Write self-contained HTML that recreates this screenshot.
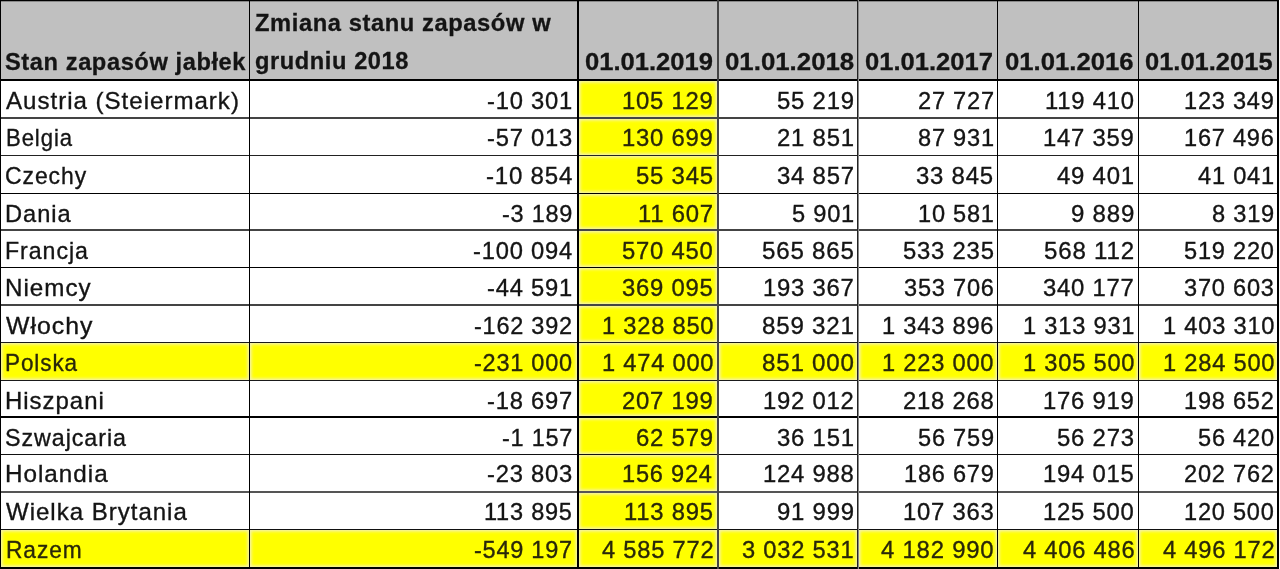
<!DOCTYPE html>
<html><head><meta charset="utf-8"><style>
html,body{margin:0;padding:0;background:#fff;}
body{width:1280px;height:569px;position:relative;overflow:hidden;font-family:"Liberation Sans",sans-serif;}
#pg{position:absolute;left:0;top:0;width:1280px;height:569px;background:#fff;filter:blur(0.35px);}
.a{position:absolute;}
.t{position:absolute;white-space:nowrap;font-size:24.5px;line-height:24.5px;color:#141414;-webkit-text-stroke:0.35px #141414;}
.b{font-weight:bold;font-size:24.5px;line-height:24.5px;-webkit-text-stroke:0.3px #141414;}
.ls{letter-spacing:0.6px;}
.ls2{letter-spacing:1.0px;}
.ls3{letter-spacing:0.8px;}
.y{color:#29270a;-webkit-text-stroke-color:#29270a;}
.h{position:absolute;background:#111;}
</style></head><body><div id="pg">

<div class="a" style="left:1px;top:1px;width:1276px;height:78px;background:#c0c0c0"></div>
<div class="a" style="left:579px;top:81px;width:138px;height:36px;background:#ffff00;box-shadow:inset 0 0 3px 1.5px #f5f2b0"></div>
<div class="a" style="left:579px;top:119px;width:138px;height:36px;background:#ffff00;box-shadow:inset 0 0 3px 1.5px #f5f2b0"></div>
<div class="a" style="left:579px;top:156px;width:138px;height:37px;background:#ffff00;box-shadow:inset 0 0 3px 1.5px #f5f2b0"></div>
<div class="a" style="left:579px;top:194px;width:138px;height:35px;background:#ffff00;box-shadow:inset 0 0 3px 1.5px #f5f2b0"></div>
<div class="a" style="left:579px;top:231px;width:138px;height:36px;background:#ffff00;box-shadow:inset 0 0 3px 1.5px #f5f2b0"></div>
<div class="a" style="left:579px;top:268px;width:138px;height:36px;background:#ffff00;box-shadow:inset 0 0 3px 1.5px #f5f2b0"></div>
<div class="a" style="left:579px;top:306px;width:138px;height:36px;background:#ffff00;box-shadow:inset 0 0 3px 1.5px #f5f2b0"></div>
<div class="a" style="left:1px;top:343px;width:248px;height:37px;background:#ffff00;box-shadow:inset 0 0 3px 1.5px #f5f2b0"></div>
<div class="a" style="left:250px;top:343px;width:327px;height:37px;background:#ffff00;box-shadow:inset 0 0 3px 1.5px #f5f2b0"></div>
<div class="a" style="left:579px;top:343px;width:138px;height:37px;background:#ffff00;box-shadow:inset 0 0 3px 1.5px #f5f2b0"></div>
<div class="a" style="left:719px;top:343px;width:138px;height:37px;background:#ffff00;box-shadow:inset 0 0 3px 1.5px #f5f2b0"></div>
<div class="a" style="left:859px;top:343px;width:138px;height:37px;background:#ffff00;box-shadow:inset 0 0 3px 1.5px #f5f2b0"></div>
<div class="a" style="left:998px;top:343px;width:140px;height:37px;background:#ffff00;box-shadow:inset 0 0 3px 1.5px #f5f2b0"></div>
<div class="a" style="left:1139px;top:343px;width:138px;height:37px;background:#ffff00;box-shadow:inset 0 0 3px 1.5px #f5f2b0"></div>
<div class="a" style="left:579px;top:381px;width:138px;height:35px;background:#ffff00;box-shadow:inset 0 0 3px 1.5px #f5f2b0"></div>
<div class="a" style="left:579px;top:418px;width:138px;height:36px;background:#ffff00;box-shadow:inset 0 0 3px 1.5px #f5f2b0"></div>
<div class="a" style="left:579px;top:455px;width:138px;height:36px;background:#ffff00;box-shadow:inset 0 0 3px 1.5px #f5f2b0"></div>
<div class="a" style="left:579px;top:493px;width:138px;height:36px;background:#ffff00;box-shadow:inset 0 0 3px 1.5px #f5f2b0"></div>
<div class="a" style="left:1px;top:530px;width:248px;height:37px;background:#ffff00;box-shadow:inset 0 0 3px 1.5px #f5f2b0"></div>
<div class="a" style="left:250px;top:530px;width:327px;height:37px;background:#ffff00;box-shadow:inset 0 0 3px 1.5px #f5f2b0"></div>
<div class="a" style="left:579px;top:530px;width:138px;height:37px;background:#ffff00;box-shadow:inset 0 0 3px 1.5px #f5f2b0"></div>
<div class="a" style="left:719px;top:530px;width:138px;height:37px;background:#ffff00;box-shadow:inset 0 0 3px 1.5px #f5f2b0"></div>
<div class="a" style="left:859px;top:530px;width:138px;height:37px;background:#ffff00;box-shadow:inset 0 0 3px 1.5px #f5f2b0"></div>
<div class="a" style="left:998px;top:530px;width:140px;height:37px;background:#ffff00;box-shadow:inset 0 0 3px 1.5px #f5f2b0"></div>
<div class="a" style="left:1139px;top:530px;width:138px;height:37px;background:#ffff00;box-shadow:inset 0 0 3px 1.5px #f5f2b0"></div>
<div class="a" style="left:0;top:0;width:1279px;height:1px;background:#000"></div>
<div class="a" style="left:0;top:1px;width:1279px;height:1px;background:#888"></div>
<div class="a" style="left:0;top:79px;width:1279px;height:2px;background:#000"></div>
<div class="a" style="left:0;top:117px;width:1279px;height:2px;background:#444"></div>
<div class="a" style="left:0;top:155px;width:1279px;height:1px;background:#222"></div>
<div class="a" style="left:0;top:193px;width:1279px;height:1px;background:#000"></div>
<div class="a" style="left:0;top:229px;width:1279px;height:2px;background:#444"></div>
<div class="a" style="left:0;top:267px;width:1279px;height:1px;background:#000"></div>
<div class="a" style="left:0;top:304px;width:1279px;height:2px;background:#444"></div>
<div class="a" style="left:0;top:342px;width:1279px;height:1px;background:#1a1a1a"></div>
<div class="a" style="left:0;top:380px;width:1279px;height:1px;background:#1a1a1a"></div>
<div class="a" style="left:0;top:416px;width:1279px;height:2px;background:#000"></div>
<div class="a" style="left:0;top:454px;width:1279px;height:1px;background:#111"></div>
<div class="a" style="left:0;top:491px;width:1279px;height:2px;background:#555"></div>
<div class="a" style="left:0;top:529px;width:1279px;height:1px;background:#111"></div>
<div class="a" style="left:0;top:567px;width:1279px;height:2px;background:#000"></div>
<div class="a" style="left:0px;top:0;width:1px;height:569px;background:#000"></div>
<div class="a" style="left:249px;top:0;width:1px;height:569px;background:#000"></div>
<div class="a" style="left:577px;top:0;width:2px;height:569px;background:#000"></div>
<div class="a" style="left:717px;top:0;width:2px;height:569px;background:#444"></div>
<div class="a" style="left:857px;top:0;width:1px;height:569px;background:#222"></div>
<div class="a" style="left:858px;top:0;width:1px;height:569px;background:#888"></div>
<div class="a" style="left:997px;top:0;width:1px;height:569px;background:#000"></div>
<div class="a" style="left:1138px;top:0;width:1px;height:569px;background:#000"></div>
<div class="a" style="left:1277px;top:0;width:2px;height:569px;background:#000"></div>
<div id="stan" class="t b ls" style="left:5.21px;top:50.00px;transform:scaleX(0.9655);transform-origin:0 0">Stan zapasów jabłek</div>
<div id="zmiana" class="t b ls" style="left:255.02px;top:11.00px;transform:scaleX(0.9682);transform-origin:0 0">Zmiana stanu zapasów w</div>
<div id="grudniu" class="t b ls" style="left:255.02px;top:49.00px;transform:scaleX(0.9646);transform-origin:0 0">grudniu 2018</div>
<div id="d0" class="t b" style="left:584.98px;top:50.00px;transform:scaleX(1.0438);transform-origin:0 0">01.01.2019</div>
<div id="d1" class="t b" style="left:724.97px;top:50.00px;transform:scaleX(1.0537);transform-origin:0 0">01.01.2018</div>
<div id="d2" class="t b" style="left:865.35px;top:50.00px;transform:scaleX(1.0430);transform-origin:0 0">01.01.2017</div>
<div id="d3" class="t b" style="left:1004.98px;top:50.00px;transform:scaleX(1.0488);transform-origin:0 0">01.01.2016</div>
<div id="d4" class="t b" style="left:1144.98px;top:50.00px;transform:scaleX(1.0402);transform-origin:0 0">01.01.2015</div>
<div id="L0" class="t ls2" style="left:6.19px;top:89.00px;transform:scaleX(0.9835);transform-origin:0 0">Austria (Steiermark)</div>
<div id="N0_0" class="t ls3" style="left:486.71px;top:89.00px;transform:scaleX(0.9701);transform-origin:0 0">-10 301</div>
<div id="N0_1" class="t ls3 y" style="left:622.28px;top:89.00px;transform:scaleX(0.9734);transform-origin:0 0">105 129</div>
<div id="N0_2" class="t ls3" style="left:776.69px;top:89.00px;transform:scaleX(0.9765);transform-origin:0 0">55 219</div>
<div id="N0_3" class="t ls3" style="left:917.53px;top:89.00px;transform:scaleX(0.9631);transform-origin:0 0">27 727</div>
<div id="N0_4" class="t ls3" style="left:1045.17px;top:89.00px;transform:scaleX(0.9721);transform-origin:0 0">119 410</div>
<div id="N0_5" class="t ls3" style="left:1184.34px;top:89.00px;transform:scaleX(0.9621);transform-origin:0 0">123 349</div>
<div id="L1" class="t ls2" style="left:5.56px;top:126.00px;transform:scaleX(0.9028);transform-origin:0 0">Belgia</div>
<div id="N1_0" class="t ls3" style="left:486.71px;top:126.00px;transform:scaleX(0.9701);transform-origin:0 0">-57 013</div>
<div id="N1_1" class="t ls3 y" style="left:622.28px;top:126.00px;transform:scaleX(0.9734);transform-origin:0 0">130 699</div>
<div id="N1_2" class="t ls3" style="left:776.69px;top:126.00px;transform:scaleX(0.9765);transform-origin:0 0">21 851</div>
<div id="N1_3" class="t ls3" style="left:917.53px;top:126.00px;transform:scaleX(0.9631);transform-origin:0 0">87 931</div>
<div id="N1_4" class="t ls3" style="left:1043.28px;top:126.00px;transform:scaleX(0.9734);transform-origin:0 0">147 359</div>
<div id="N1_5" class="t ls3" style="left:1184.34px;top:126.00px;transform:scaleX(0.9621);transform-origin:0 0">167 496</div>
<div id="L2" class="t ls2" style="left:4.86px;top:164.00px;transform:scaleX(0.9353);transform-origin:0 0">Czechy</div>
<div id="N2_0" class="t ls3" style="left:485.67px;top:164.00px;transform:scaleX(0.9821);transform-origin:0 0">-10 854</div>
<div id="N2_1" class="t ls3 y" style="left:636.08px;top:164.00px;transform:scaleX(0.9765);transform-origin:0 0">55 345</div>
<div id="N2_2" class="t ls3" style="left:776.69px;top:164.00px;transform:scaleX(0.9765);transform-origin:0 0">34 857</div>
<div id="N2_3" class="t ls3" style="left:916.49px;top:164.00px;transform:scaleX(0.9765);transform-origin:0 0">33 845</div>
<div id="N2_4" class="t ls3" style="left:1057.08px;top:164.00px;transform:scaleX(0.9765);transform-origin:0 0">49 401</div>
<div id="N2_5" class="t ls3" style="left:1198.07px;top:164.00px;transform:scaleX(0.9640);transform-origin:0 0">41 041</div>
<div id="L3" class="t ls2" style="left:5.07px;top:202.00px;transform:scaleX(0.9652);transform-origin:0 0">Dania</div>
<div id="N3_0" class="t ls3" style="left:501.55px;top:202.00px;transform:scaleX(0.9585);transform-origin:0 0">-3 189</div>
<div id="N3_1" class="t ls3 y" style="left:638.03px;top:202.00px;transform:scaleX(0.9743);transform-origin:0 0">11 607</div>
<div id="N3_2" class="t ls3" style="left:791.55px;top:202.00px;transform:scaleX(0.9646);transform-origin:0 0">5 901</div>
<div id="N3_3" class="t ls3" style="left:917.60px;top:202.00px;transform:scaleX(0.9622);transform-origin:0 0">10 581</div>
<div id="N3_4" class="t ls3" style="left:1070.94px;top:202.00px;transform:scaleX(0.9802);transform-origin:0 0">9 889</div>
<div id="N3_5" class="t ls3" style="left:1211.95px;top:202.00px;transform:scaleX(0.9646);transform-origin:0 0">8 319</div>
<div id="L4" class="t ls2" style="left:5.30px;top:239.00px;transform:scaleX(0.9453);transform-origin:0 0">Francja</div>
<div id="N4_0" class="t ls3" style="left:472.85px;top:239.00px;transform:scaleX(0.9688);transform-origin:0 0">-100 094</div>
<div id="N4_1" class="t ls3 y" style="left:622.28px;top:239.00px;transform:scaleX(0.9734);transform-origin:0 0">570 450</div>
<div id="N4_2" class="t ls3" style="left:761.85px;top:239.00px;transform:scaleX(0.9847);transform-origin:0 0">565 865</div>
<div id="N4_3" class="t ls3" style="left:902.63px;top:239.00px;transform:scaleX(0.9740);transform-origin:0 0">533 235</div>
<div id="N4_4" class="t ls3" style="left:1044.13px;top:239.00px;transform:scaleX(0.9837);transform-origin:0 0">568 112</div>
<div id="N4_5" class="t ls3" style="left:1184.27px;top:239.00px;transform:scaleX(0.9628);transform-origin:0 0">519 220</div>
<div id="L5" class="t ls2" style="left:5.22px;top:276.00px;transform:scaleX(0.9871);transform-origin:0 0">Niemcy</div>
<div id="N5_0" class="t ls3" style="left:486.71px;top:276.00px;transform:scaleX(0.9701);transform-origin:0 0">-44 591</div>
<div id="N5_1" class="t ls3 y" style="left:622.28px;top:276.00px;transform:scaleX(0.9734);transform-origin:0 0">369 095</div>
<div id="N5_2" class="t ls3" style="left:762.90px;top:276.00px;transform:scaleX(0.9734);transform-origin:0 0">193 367</div>
<div id="N5_3" class="t ls3" style="left:903.67px;top:276.00px;transform:scaleX(0.9628);transform-origin:0 0">353 706</div>
<div id="N5_4" class="t ls3" style="left:1043.28px;top:276.00px;transform:scaleX(0.9734);transform-origin:0 0">340 177</div>
<div id="N5_5" class="t ls3" style="left:1184.27px;top:276.00px;transform:scaleX(0.9628);transform-origin:0 0">370 603</div>
<div id="L6" class="t ls2" style="left:6.20px;top:314.00px;transform:scaleX(1.0141);transform-origin:0 0">Włochy</div>
<div id="N6_0" class="t ls3" style="left:473.89px;top:314.00px;transform:scaleX(0.9586);transform-origin:0 0">-162 392</div>
<div id="N6_1" class="t ls3 y" style="left:601.66px;top:314.00px;transform:scaleX(0.9662);transform-origin:0 0">1 328 850</div>
<div id="N6_2" class="t ls3" style="left:761.85px;top:314.00px;transform:scaleX(0.9847);transform-origin:0 0">859 321</div>
<div id="N6_3" class="t ls3" style="left:882.07px;top:314.00px;transform:scaleX(0.9662);transform-origin:0 0">1 343 896</div>
<div id="N6_4" class="t ls3" style="left:1022.66px;top:314.00px;transform:scaleX(0.9662);transform-origin:0 0">1 313 931</div>
<div id="N6_5" class="t ls3" style="left:1162.67px;top:314.00px;transform:scaleX(0.9662);transform-origin:0 0">1 403 310</div>
<div id="L7" class="t ls2 y" style="left:5.35px;top:351.00px;transform:scaleX(0.9182);transform-origin:0 0">Polska</div>
<div id="N7_0" class="t ls3 y" style="left:473.89px;top:351.00px;transform:scaleX(0.9586);transform-origin:0 0">-231 000</div>
<div id="N7_1" class="t ls3 y" style="left:601.66px;top:351.00px;transform:scaleX(0.9662);transform-origin:0 0">1 474 000</div>
<div id="N7_2" class="t ls3 y" style="left:761.85px;top:351.00px;transform:scaleX(0.9847);transform-origin:0 0">851 000</div>
<div id="N7_3" class="t ls3 y" style="left:882.07px;top:351.00px;transform:scaleX(0.9662);transform-origin:0 0">1 223 000</div>
<div id="N7_4" class="t ls3 y" style="left:1022.66px;top:351.00px;transform:scaleX(0.9662);transform-origin:0 0">1 305 500</div>
<div id="N7_5" class="t ls3 y" style="left:1162.67px;top:351.00px;transform:scaleX(0.9662);transform-origin:0 0">1 284 500</div>
<div id="L8" class="t ls2" style="left:5.23px;top:389.00px;transform:scaleX(0.9786);transform-origin:0 0">Hiszpani</div>
<div id="N8_0" class="t ls3" style="left:486.71px;top:389.00px;transform:scaleX(0.9701);transform-origin:0 0">-18 697</div>
<div id="N8_1" class="t ls3 y" style="left:622.28px;top:389.00px;transform:scaleX(0.9734);transform-origin:0 0">207 199</div>
<div id="N8_2" class="t ls3" style="left:762.90px;top:389.00px;transform:scaleX(0.9734);transform-origin:0 0">192 012</div>
<div id="N8_3" class="t ls3" style="left:902.69px;top:389.00px;transform:scaleX(0.9734);transform-origin:0 0">218 268</div>
<div id="N8_4" class="t ls3" style="left:1043.28px;top:389.00px;transform:scaleX(0.9734);transform-origin:0 0">176 919</div>
<div id="N8_5" class="t ls3" style="left:1184.34px;top:389.00px;transform:scaleX(0.9621);transform-origin:0 0">198 652</div>
<div id="L9" class="t ls2" style="left:5.05px;top:426.00px;transform:scaleX(0.9492);transform-origin:0 0">Szwajcaria</div>
<div id="N9_0" class="t ls3" style="left:501.55px;top:426.00px;transform:scaleX(0.9585);transform-origin:0 0">-1 157</div>
<div id="N9_1" class="t ls3 y" style="left:636.08px;top:426.00px;transform:scaleX(0.9765);transform-origin:0 0">62 579</div>
<div id="N9_2" class="t ls3" style="left:776.69px;top:426.00px;transform:scaleX(0.9765);transform-origin:0 0">36 151</div>
<div id="N9_3" class="t ls3" style="left:917.53px;top:426.00px;transform:scaleX(0.9631);transform-origin:0 0">56 759</div>
<div id="N9_4" class="t ls3" style="left:1057.08px;top:426.00px;transform:scaleX(0.9765);transform-origin:0 0">56 273</div>
<div id="N9_5" class="t ls3" style="left:1198.14px;top:426.00px;transform:scaleX(0.9631);transform-origin:0 0">56 420</div>
<div id="L10" class="t ls2" style="left:5.02px;top:462.00px;transform:scaleX(0.9902);transform-origin:0 0">Holandia</div>
<div id="N10_0" class="t ls3" style="left:486.71px;top:462.00px;transform:scaleX(0.9701);transform-origin:0 0">-23 803</div>
<div id="N10_1" class="t ls3 y" style="left:622.29px;top:462.00px;transform:scaleX(0.9628);transform-origin:0 0">156 924</div>
<div id="N10_2" class="t ls3" style="left:762.90px;top:462.00px;transform:scaleX(0.9734);transform-origin:0 0">124 988</div>
<div id="N10_3" class="t ls3" style="left:903.74px;top:462.00px;transform:scaleX(0.9621);transform-origin:0 0">186 679</div>
<div id="N10_4" class="t ls3" style="left:1043.28px;top:462.00px;transform:scaleX(0.9734);transform-origin:0 0">194 015</div>
<div id="N10_5" class="t ls3" style="left:1184.27px;top:462.00px;transform:scaleX(0.9628);transform-origin:0 0">202 762</div>
<div id="L11" class="t ls2" style="left:6.19px;top:500.00px;transform:scaleX(0.9815);transform-origin:0 0">Wielka Brytania</div>
<div id="N11_0" class="t ls3" style="left:484.05px;top:500.00px;transform:scaleX(0.9606);transform-origin:0 0">113 895</div>
<div id="N11_1" class="t ls3 y" style="left:624.17px;top:500.00px;transform:scaleX(0.9721);transform-origin:0 0">113 895</div>
<div id="N11_2" class="t ls3" style="left:776.69px;top:500.00px;transform:scaleX(0.9765);transform-origin:0 0">91 999</div>
<div id="N11_3" class="t ls3" style="left:902.69px;top:500.00px;transform:scaleX(0.9734);transform-origin:0 0">107 363</div>
<div id="N11_4" class="t ls3" style="left:1043.28px;top:500.00px;transform:scaleX(0.9734);transform-origin:0 0">125 500</div>
<div id="N11_5" class="t ls3" style="left:1184.34px;top:500.00px;transform:scaleX(0.9621);transform-origin:0 0">120 500</div>
<div id="L12" class="t ls2 y" style="left:5.91px;top:538.00px;transform:scaleX(0.9278);transform-origin:0 0">Razem</div>
<div id="N12_0" class="t ls3 y" style="left:473.89px;top:538.00px;transform:scaleX(0.9586);transform-origin:0 0">-549 197</div>
<div id="N12_1" class="t ls3 y" style="left:601.59px;top:538.00px;transform:scaleX(0.9668);transform-origin:0 0">4 585 772</div>
<div id="N12_2" class="t ls3 y" style="left:742.21px;top:538.00px;transform:scaleX(0.9668);transform-origin:0 0">3 032 531</div>
<div id="N12_3" class="t ls3 y" style="left:880.97px;top:538.00px;transform:scaleX(0.9758);transform-origin:0 0">4 182 990</div>
<div id="N12_4" class="t ls3 y" style="left:1022.59px;top:538.00px;transform:scaleX(0.9668);transform-origin:0 0">4 406 486</div>
<div id="N12_5" class="t ls3 y" style="left:1162.61px;top:538.00px;transform:scaleX(0.9668);transform-origin:0 0">4 496 172</div>
</div></body></html>
